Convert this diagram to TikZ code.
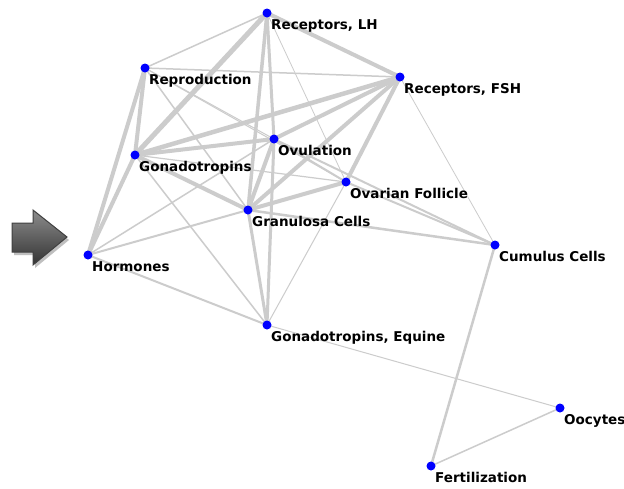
\documentclass[tikz,border=0pt]{standalone}
\usepackage{fontspec}
\setmainfont{DejaVu Sans}
\begin{document}
\begin{tikzpicture}[x=1pt,y=-1pt,
  dot/.style={circle,fill=blue,inner sep=0pt,minimum size=9pt},
  lbl/.style={anchor=north west,inner sep=0pt,font=\fontsize{13.5}{14}\selectfont\bfseries},
  ed/.style={draw=black!20,line width=#1},
  ed/.default=1.5pt]
\useasboundingbox (0,0) rectangle (624,488);
\fill[white] (0,0) rectangle (624,488);
% nodes
\coordinate (LH) at (267,13);
\coordinate (RE) at (145,68);
\coordinate (FSH) at (400,77);
\coordinate (OV) at (274,139);
\coordinate (GO) at (135,155);
\coordinate (OF) at (346,182);
\coordinate (GR) at (248,210);
\coordinate (HO) at (88,255);
\coordinate (CU) at (495,245);
\coordinate (GE) at (267,325);
\coordinate (OO) at (560,408);
\coordinate (FE) at (431,466);
% edges
\begin{scope}[line cap=round]
\draw[ed=4pt] (LH) -- (FSH);
\draw[ed=1.5pt] (LH) -- (RE);
\draw[ed=5pt] (LH) -- (GO);
\draw[ed=3pt] (LH) -- (OV);
\draw[ed=3.5pt] (LH) -- (GR);
\draw[ed=0.8pt] (LH) -- (OF);
\draw[ed=1.5pt] (RE) -- (FSH);
\draw[ed=4pt] (RE) -- (GO);
\draw[ed=4pt] (RE) -- (HO);
\draw[ed=1pt] (RE) -- (OV);
\draw[ed=1.5pt] (RE) -- (GR);
\draw[ed=1pt] (RE) -- (OF);
\draw[ed=4.5pt] (FSH) -- (GO);
\draw[ed=4pt] (FSH) -- (OV);
\draw[ed=4pt] (FSH) -- (GR);
\draw[ed=4pt] (FSH) -- (OF);
\draw[ed=0.8pt] (FSH) -- (CU);
\draw[ed=1.5pt] (HO) -- (OV);
\draw[ed=4pt] (GO) -- (OV);
\draw[ed=4pt] (GO) -- (GR);
\draw[ed=1.2pt] (GO) -- (OF);
\draw[ed=4pt] (GO) -- (HO);
\draw[ed=1.5pt] (GO) -- (GE);
\draw[ed=4pt] (OV) -- (GR);
\draw[ed=2pt] (OV) -- (OF);
\draw[ed=2pt] (OV) -- (CU);
\draw[ed=3pt] (OV) -- (GE);
\draw[ed=4pt] (GR) -- (OF);
\draw[ed=2.5pt] (GR) -- (CU);
\draw[ed=2pt] (GR) -- (HO);
\draw[ed=3pt] (GR) -- (GE);
\draw[ed=2pt] (OF) -- (CU);
\draw[ed=1pt] (OF) -- (GE);
\draw[ed=2pt] (HO) -- (GE);
\draw[ed=1pt] (GE) -- (OO);
\draw[ed=2.5pt] (CU) -- (FE);
\draw[ed=1.5pt] (OO) -- (FE);
\end{scope}
% dots and labels
\foreach \n/\t in {LH/{Receptors, LH},RE/Reproduction,FSH/{Receptors, FSH},OV/Ovulation,GO/Gonadotropins,OF/Ovarian Follicle,GR/Granulosa Cells,HO/Hormones,CU/Cumulus Cells,GE/{Gonadotropins, Equine},OO/Oocytes,FE/Fertilization}{
  \node[dot] (d\n) at (\n) {};
  \node[lbl] (l\n) at ([xshift=4pt,yshift=-6pt]\n) {\t};
}
% arrow
\fill[black!25] (14,226) -- (35,226) -- (35,213) -- (69,240) -- (35,268) -- (35,255) -- (14,255) -- cycle;
\shade[top color=black!45,bottom color=black!80,draw=black!75,line width=1pt]
  (12,223) -- (33,223) -- (33,210) -- (67,237) -- (33,265) -- (33,252) -- (12,252) -- cycle;
\end{tikzpicture}
\end{document}
